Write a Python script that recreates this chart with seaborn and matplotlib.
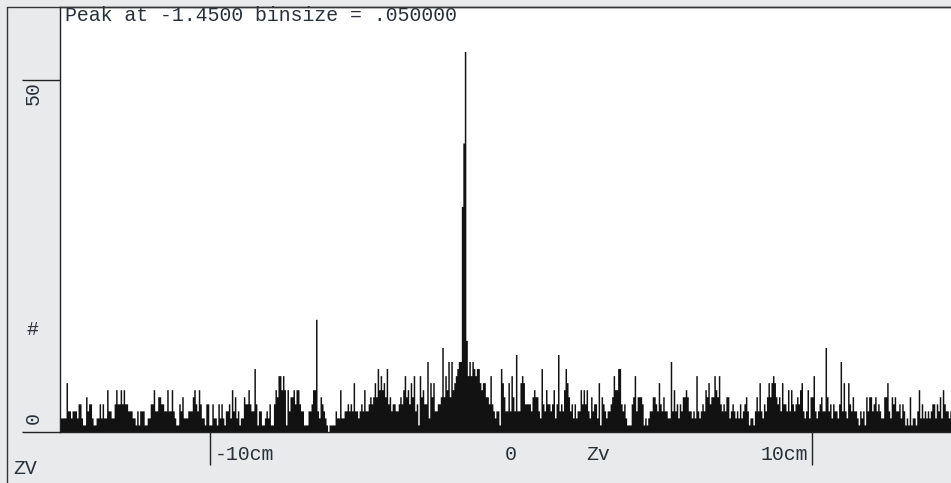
import numpy as np
import matplotlib
matplotlib.use("Agg")
import matplotlib.pyplot as plt
from matplotlib.lines import Line2D
from matplotlib.ticker import MultipleLocator, FixedLocator, NullLocator
import seaborn as sns

# ZV histogram, bins of .05 cm starting at -15 cm
bin_start = -15.0
bin_size = 0.05

counts_a = [2, 2, 2, 2, 7, 3, 3, 2, 3, 3, 3, 2, 4, 4, 2, 1, 1, 5, 3, 4,
            4, 2, 1, 1, 2, 2, 4, 2, 4, 2, 2, 6, 3, 3, 2, 2, 4, 6, 4, 4,
            6, 4, 6, 4, 4, 3, 3, 3, 2, 2, 1, 3, 1, 3, 3, 3, 1, 1, 2, 2,
            4, 4, 6, 3, 3, 5, 5, 4, 4, 3, 3, 6, 3]
counts_b = [3, 6, 3, 2, 1, 1, 4, 3, 5, 2, 2, 2, 3, 3, 3, 5, 6, 4, 3, 6,
            4, 2, 2, 1, 4, 4, 1, 1, 4, 2, 2, 1, 4, 2, 4, 2, 1, 3, 3, 4,
            2, 6, 3, 5, 2, 3, 1, 2, 2, 5, 4, 4, 6, 4, 3, 3, 9, 4, 1, 3,
            3, 1, 1, 2, 3, 2, 4, 1, 1, 4, 6, 5, 8, 8, 6]
counts_c = [8, 6, 1, 6, 3, 5, 5, 6, 4, 6, 6, 4, 3, 3, 1, 1, 1, 3, 3, 4,
            6, 6, 16, 3, 2, 5, 4, 3, 2, 1, 0, 1, 1, 1, 1, 3, 2, 2, 6, 2,
            2, 3, 3, 4, 3, 4, 3, 7, 3, 3, 2, 3, 4, 3, 6, 3, 3, 4, 5, 4,
            5, 7, 5, 9, 6, 8, 6, 7, 5, 9, 4, 5, 3, 4, 4]
counts_d = [3, 3, 4, 5, 4, 6, 8, 5, 6, 4, 7, 5, 8, 3, 4, 1, 8, 5, 6, 4,
            4, 10, 2, 7, 5, 7, 3, 3, 4, 4, 5, 12, 5, 8, 6, 10, 5, 10, 6, 7,
            8, 9, 10, 10, 32, 41, 54, 13, 8, 10, 8, 10, 9, 8, 9, 9, 7, 6, 7, 7,
            5, 5, 4, 8, 4, 3, 2, 3, 3, 1, 9, 7, 5, 3, 3]
counts_e = [7, 3, 8, 5, 3, 11, 3, 3, 7, 8, 7, 4, 4, 4, 4, 3, 5, 6, 5, 5,
            3, 2, 9, 4, 3, 6, 4, 4, 3, 4, 6, 2, 4, 11, 3, 4, 3, 6, 9, 7,
            5, 3, 4, 2, 4, 2, 3, 3, 6, 4, 6, 4, 6, 3, 2, 5, 3, 4, 4, 2,
            7, 1, 5, 4, 3, 2, 3, 3, 4, 5, 8, 6, 6, 9, 9]
counts_f = [4, 3, 4, 2, 1, 1, 1, 4, 5, 8, 3, 5, 5, 5, 4, 1, 2, 1, 2, 3,
            3, 5, 5, 4, 3, 7, 4, 3, 5, 3, 3, 2, 2, 10, 3, 6, 3, 4, 2, 4,
            3, 5, 5, 6, 5, 3, 3, 2, 3, 2, 8, 3, 2, 3, 4, 3, 6, 5, 7, 4,
            5, 5, 8, 6, 5, 8, 4, 3, 4, 3, 5, 5, 2, 3, 4]
counts_g = [3, 2, 3, 2, 4, 2, 3, 4, 5, 3, 1, 2, 2, 1, 3, 5, 3, 7, 3, 2,
            4, 3, 5, 7, 5, 7, 8, 7, 5, 4, 5, 3, 7, 4, 4, 3, 6, 3, 6, 4,
            3, 4, 5, 4, 6, 7, 3, 2, 3, 6, 2, 5, 5, 8, 3, 2, 3, 4, 5, 3,
            3, 12, 5, 3, 4, 2, 4, 3, 3, 2, 4, 10, 3, 7]
counts_h = [3, 2, 7, 4, 3, 5, 3, 3, 2, 1, 3, 2, 3, 1, 5, 3, 5, 5, 3, 4,
            5, 3, 4, 3, 2, 2, 5, 5, 7, 3, 2, 5, 4, 5, 3, 3, 4, 2, 4, 3,
            1, 2, 1, 5, 1, 2, 2, 1, 3, 6, 2, 4, 2, 3, 2, 3, 2, 3, 4, 4,
            2, 4, 3, 5, 2, 6, 4, 3, 3, 2, 3]

x_tick_labels = ["-10cm", "0", "10cm"]
y_tick_labels = ["0", "50"]
title_text = "Peak at -1.4500 binsize = .050000"

counts = np.array(counts_a + counts_b + counts_c + counts_d +
                  counts_e + counts_f + counts_g + counts_h, dtype=float)
edges = bin_start + bin_size * np.arange(len(counts) + 1)
centers = (edges[:-1] + edges[1:]) / 2

bg = "#e9eaeb"
ink = "#121212"
tc = "#28313a"
line_c = "#222222"

sns.set_style("white")
plt.rcParams["font.family"] = ["Liberation Mono", "DejaVu Sans Mono"]

W, H = 951, 483
fig = plt.figure(figsize=(W / 100, H / 100), dpi=100, facecolor=bg)
ax = fig.add_axes([60 / W, 51 / H, (W - 60) / W, 425 / H])
ax.set_facecolor("white")

sns.histplot(x=centers, weights=counts, bins=edges.tolist(), element="step",
             fill=True, color=ink, alpha=1, linewidth=0, ax=ax)

ax.set_xlim(-15.0, 14.64)
ax.set_ylim(0, 60.3)
ax.set_xlabel("")
ax.set_ylabel("")

for side in ["left", "bottom", "top"]:
    ax.spines[side].set_color(line_c)
    ax.spines[side].set_linewidth(1)
ax.spines["right"].set_visible(False)

px = 0.72  # points per pixel at dpi 100
ax.xaxis.set_major_locator(FixedLocator([-10, 0, 10]))
ax.xaxis.set_minor_locator(MultipleLocator(1))
ax.yaxis.set_major_locator(MultipleLocator(10))
ax.yaxis.set_minor_locator(MultipleLocator(1))
ax.tick_params(axis="x", which="major", direction="out", length=13 * px,
               width=1, color=line_c, labelbottom=False)
ax.tick_params(axis="x", which="minor", direction="out", length=6 * px,
               width=1, color=line_c)
ax.tick_params(axis="y", which="major", direction="out", length=10 * px,
               width=1, color=line_c, labelleft=False)
ax.tick_params(axis="y", which="minor", direction="out", length=5 * px,
               width=0.8, color=line_c)

# long ticks at -10cm / 10cm and at 0 / 50
secx = ax.secondary_xaxis("bottom")
secx.set_xticks([-10, 10])
secx.xaxis.set_minor_locator(NullLocator())
secx.tick_params(length=33 * px, width=1, color=line_c, labelbottom=False)
secx.spines["bottom"].set_visible(False)
secy = ax.secondary_yaxis("left")
secy.set_yticks([0, 50])
secy.yaxis.set_minor_locator(NullLocator())
secy.tick_params(length=38 * px, width=1, color=line_c, labelleft=False)
secy.spines["left"].set_visible(False)

fs = 14.3
# y tick labels, rotated
ax.annotate(y_tick_labels[0], xy=(0, 0), xycoords=("axes fraction", "data"),
            xytext=(-27, 8), textcoords="offset pixels", rotation=90,
            ha="center", va="bottom", fontsize=fs, color=tc)
ax.annotate(y_tick_labels[1], xy=(0, 50), xycoords=("axes fraction", "data"),
            xytext=(-27, -2), textcoords="offset pixels", rotation=90,
            ha="center", va="top", fontsize=fs, color=tc)
ax.annotate("#", xy=(0, 0.242), xycoords="axes fraction",
            xytext=(-28, 0), textcoords="offset pixels",
            ha="center", va="center", fontsize=fs, color=tc)

# x tick labels
ax.annotate(x_tick_labels[0], xy=(-10, 0), xycoords=("data", "axes fraction"),
            xytext=(4, -23), textcoords="offset pixels",
            ha="left", va="center", fontsize=fs, color=tc)
ax.annotate(x_tick_labels[1], xy=(0, 0), xycoords=("data", "axes fraction"),
            xytext=(0, -23), textcoords="offset pixels",
            ha="center", va="center", fontsize=fs, color=tc)
ax.annotate(x_tick_labels[2], xy=(10, 0), xycoords=("data", "axes fraction"),
            xytext=(-3, -23), textcoords="offset pixels",
            ha="right", va="center", fontsize=fs, color=tc)
ax.annotate("Zv", xy=(0.604, 0), xycoords="axes fraction",
            xytext=(0, -23), textcoords="offset pixels",
            ha="center", va="center", fontsize=fs, color=tc)
fig.text(13 / W, 1 - 469 / H, "ZV", ha="left", va="center",
         fontsize=fs, color=tc)

ax.annotate(title_text, xy=(0, 1), xycoords="axes fraction",
            xytext=(5, -8), textcoords="offset pixels",
            ha="left", va="center", fontsize=fs, color=tc)

# outer frame
fig.add_artist(Line2D([7 / W, 7 / W], [0, 1 - 7 / H], transform=fig.transFigure,
                      color="#333333", lw=1))
fig.add_artist(Line2D([7 / W, 1], [1 - 7 / H, 1 - 7 / H], transform=fig.transFigure,
                      color="#333333", lw=1))

fig.savefig("out.png", dpi=100, facecolor=bg)
